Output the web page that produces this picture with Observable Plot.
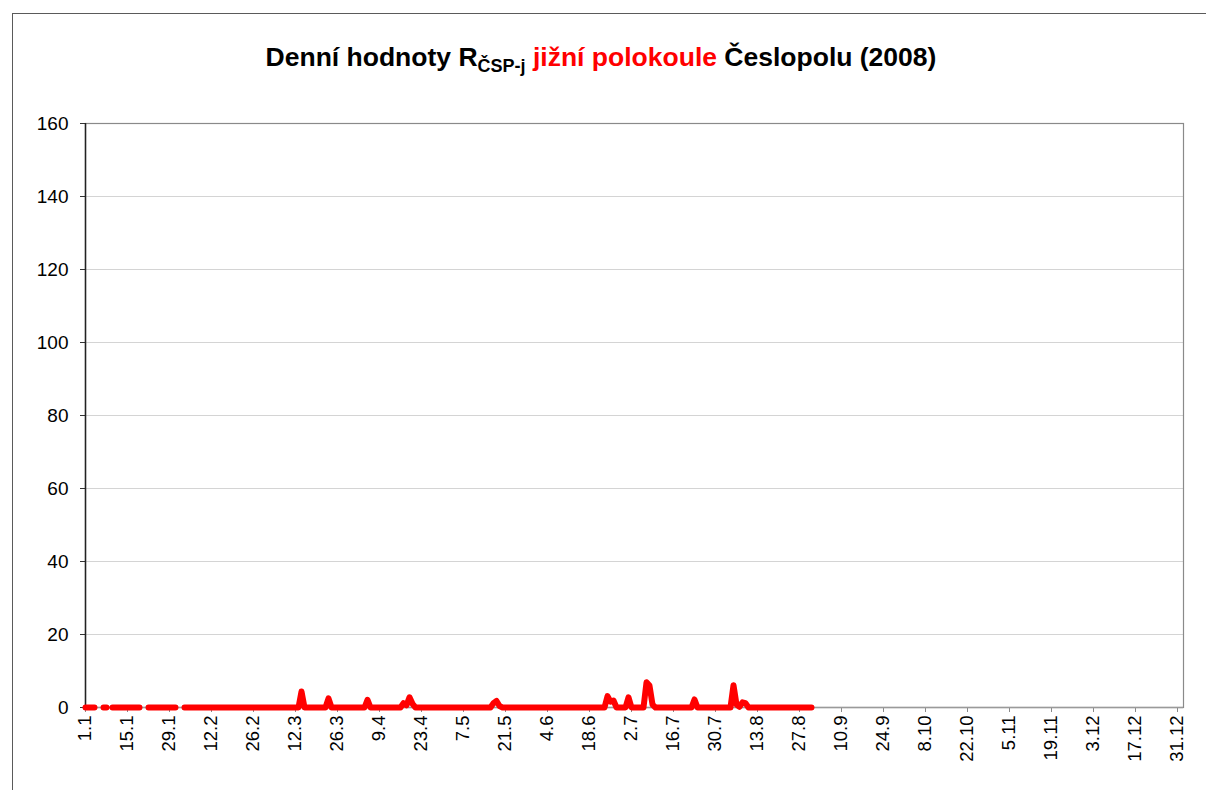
<!DOCTYPE html>
<html>
<head>
<meta charset="utf-8">
<script src="https://cdn.jsdelivr.net/npm/d3@7"></script>
<script src="https://cdn.jsdelivr.net/npm/@observablehq/plot@0.6"></script>
<style>
  html, body { margin: 0; padding: 0; background: #fff; }
  #wrap { position: relative; width: 1206px; height: 790px; overflow: hidden; background: #fff;
          font-family: "Liberation Sans", Arial, sans-serif; }
  #frame { position: absolute; left: 12px; top: 13px; width: 1400px; height: 1000px;
           border-left: 1.5px solid #5a5a5a; border-top: 1.5px solid #5a5a5a; box-sizing: border-box; }
  #title { position: absolute; left: 0; top: 42px; width: 1202px; text-align: center;
           font-size: 26.5px; font-weight: bold; line-height: 31px; color: #000; white-space: nowrap; }
  #title sub { font-size: 18px; vertical-align: -6px; line-height: 0; }
  #title .red { color: #ff0000; }
  #chart { position: absolute; left: 0; top: 90px; }
</style>
</head>
<body>
<div id="wrap">
  <div id="frame"></div>
  <div id="title">Denní hodnoty R<sub>ČSP-j</sub> <span class="red">jižní polokoule</span> Česlopolu (2008)</div>
  <div id="chart"></div>
</div>
<script>
// Tick labels (every 14th day of the year)
const tickLabels = ["1.1","15.1","29.1","12.2","26.2","12.3","26.3","9.4","23.4","7.5","21.5","4.6",
  "18.6","2.7","16.7","30.7","13.8","27.8","10.9","24.9","8.10","22.10","5.11","19.11","3.12","17.12","31.12"];

// Daily values, one per day from 1.1 (null = missing day)
const jan = [0,0,0,0,null,null,0,0,null,0,0,0,0,0,0,0,0,0,0,null,null,0,0,0,0,0,0,0,0,0,0];
const feb = [null,null,0,0,0,0,0,0,0,0,0,0,0,0,0,0,0,0,0,0,0,0,0,0,0,0,0,0];
const mar = [0,0,0,0,0,0,0,0,0,0,0,0,0,4.4,0,0,0,0,0,0,0,0,2.5,0,0,0,0,0,0,0,0];
const apr = [0,0,0,0,2.1,0,0,0,0,0,0,0,0,0,0,0,1.2,0.6,2.8,1.0,0,0,0,0,0,0,0,0,0,0];
const may = [0,0,0,0,0,0,0,0,0,0,0,0,0,0,0,0,1.2,1.8,0.4,0,0,0,0,0,0,0,0,0,0,0,0];
const jun = [0,0,0,0,0,0,0,0,0,0,0,0,0,0,0,0,0,0,0,0,0,0,0,3.1,1.6,1.9,0,0,0,0];
const jul = [2.8,0,0,0,0,0,6.9,6.0,0.8,0,0,0,0,0,0,0,0,0,0,0,0,0,2.2,0,0,0,0,0,0,0,0];
const aug = [0,0,0,0,6.1,0.8,0.2,1.4,1.2,0,0,0,0,0,0,0,0,0,0,0,0,0,0,0,0,0,0,0,0,0,0];

const values = [...jan, ...feb, ...mar, ...apr, ...may, ...jun, ...jul, ...aug];
const data = values.map((v, i) => ({day: i, v}));
const tickDays = tickLabels.map((_, i) => i * 14);

const chart = Plot.plot({
  width: 1206,
  height: 700,
  marginTop: 33,
  marginLeft: 85,
  marginRight: 23,
  marginBottom: 83,
  style: {fontFamily: '"Liberation Sans", Arial, sans-serif', fontSize: "19px", background: "transparent", color: "#000", overflow: "visible"},
  x: {domain: [0, 366], label: null},
  y: {domain: [0, 160], label: null},
  marks: [
    Plot.gridY(d3.range(20, 161, 20), {stroke: "#d4d4d4", strokeOpacity: 1, strokeWidth: 1}),
    Plot.frame({stroke: "#8a8a8a", strokeWidth: 1.2}),
    Plot.axisY(d3.range(0, 161, 20), {tickSize: 5, tickPadding: 12, stroke: "#333", fill: "#000", fontSize: 19, label: null}),
    Plot.axisX(tickDays, {tickFormat: (d, i) => tickLabels[i], tickRotate: -90, tickSize: 5, tickPadding: 3,
      stroke: "#8a8a8a", fill: "#000", fontSize: 18.5, label: null}),
    Plot.ruleY([0], {stroke: "#9a9a9a", strokeWidth: 1.5}),
    Plot.ruleX([0], {stroke: "#222", strokeWidth: 1.5}),
    Plot.lineY(data, {x: "day", y: "v", stroke: "#ff0000", strokeWidth: 6,
      strokeLinejoin: "round", strokeLinecap: "round", curve: "linear"})
  ]
});
document.getElementById("chart").appendChild(chart);
</script>
</body>
</html>
